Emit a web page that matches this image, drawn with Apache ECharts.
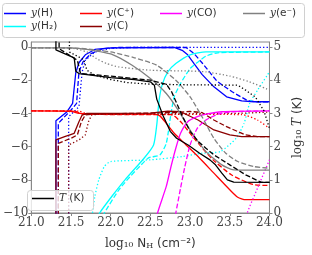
<!DOCTYPE html>
<html><head><meta charset="utf-8">
<script src="https://cdn.jsdelivr.net/npm/echarts@6/dist/echarts.min.js"></script>
<style>html,body{margin:0;padding:0;background:#fff}#c{width:312px;height:255px}</style>
</head><body><div id="c"></div>
<script>
// ---- data: [log10 N_H, log10 y] (left axis) ----
const H_solid  = [[21.0,-12],[21.31,-12],[21.31,-4.45],[21.45,-3.9],[21.52,-3.4],[21.56,-1.55],[21.6,-0.95],[21.68,-0.47],[21.8,-0.15],[22.0,-0.05],[22.8,-0.03],[22.9,-0.2],[22.97,-0.47],[23.05,-1.0],[23.15,-1.65],[23.3,-2.4],[23.46,-3.0],[23.65,-3.25],[23.8,-3.3],[24.0,-3.3]];
const H_dash   = [[21.0,-12],[21.34,-12],[21.34,-4.6],[21.5,-3.8],[21.57,-3.4],[21.6,-1.5],[21.65,-0.9],[21.75,-0.4],[21.9,-0.1],[22.1,-0.03],[22.95,-0.03],[23.05,-0.4],[23.15,-0.95],[23.34,-2.07],[23.53,-2.7],[23.73,-3.25],[23.85,-3.3],[24.0,-3.3]];
const H_dot    = [[21.0,-12],[21.47,-12],[21.47,-4.2],[21.6,-3.6],[21.64,-1.5],[21.68,-0.8],[21.8,-0.3],[22.0,-0.08],[22.3,-0.02],[24.0,-0.02]];
const H2_solid = [[21.8,-10.6],[21.86,-10],[22.03,-8.9],[22.18,-8.0],[22.42,-6.7],[22.54,-5.9],[22.58,-4.7],[22.61,-3.2],[22.65,-2.25],[22.72,-1.5],[22.82,-1.0],[23.0,-0.47],[23.2,-0.3],[24.0,-0.3]];
const H2_dash  = [[21.86,-10.6],[21.92,-10],[22.12,-8.5],[22.47,-6.7],[22.62,-6.5],[22.7,-5.8],[22.76,-4.0],[22.8,-3.0],[22.88,-2.2],[23.0,-1.3],[23.1,-0.9],[23.2,-0.55],[23.35,-0.35],[24.0,-0.3]];
const H2_dot   = [[21.74,-10.6],[21.77,-10],[21.8,-9.0],[21.85,-8.0],[21.92,-7.2],[22.0,-6.9],[22.5,-6.8],[22.9,-6.6],[23.15,-6.4],[23.38,-6.3],[23.58,-5.5],[23.68,-4.6],[23.75,-3.4],[23.85,-2.6],[24.0,-1.5]];
const Cp_solid = [[21.0,-3.85],[21.5,-3.87],[21.6,-4.0],[22.0,-4.05],[22.55,-4.05],[22.62,-4.15],[22.7,-4.6],[22.8,-5.2],[22.95,-5.9],[23.1,-6.6],[23.3,-7.6],[23.5,-8.6],[23.6,-9.05],[23.7,-9.2],[24.0,-9.2]];
const Cp_dash  = [[21.0,-3.85],[21.55,-3.87],[21.65,-4.05],[22.75,-4.08],[22.8,-4.15],[22.9,-4.6],[23.05,-5.5],[23.29,-6.8],[23.52,-7.7],[23.79,-8.28],[24.0,-8.34]];
const Cp_dot   = [[21.0,-3.85],[21.6,-3.87],[21.72,-4.05],[23.65,-4.07],[23.85,-4.4],[24.0,-4.9]];
const C_solid  = [[21.0,-12],[21.31,-12],[21.31,-5.6],[21.42,-5.4],[21.54,-5.2],[21.6,-4.5],[21.64,-4.1],[21.7,-4.0],[22.5,-3.98],[22.72,-3.86],[22.88,-3.9],[23.1,-4.4],[23.3,-5.0],[23.5,-5.3],[23.65,-5.4],[24.0,-5.4]];
const C_dash   = [[21.0,-12],[21.34,-12],[21.34,-5.8],[21.5,-5.5],[21.58,-5.3],[21.63,-4.5],[21.68,-4.1],[21.75,-4.05],[22.8,-3.95],[23.0,-3.88],[23.15,-3.95],[23.3,-4.4],[23.46,-4.8],[23.7,-5.3],[23.85,-5.4],[24.0,-5.4]];
const C_dot    = [[21.0,-12],[21.47,-12],[21.47,-5.9],[21.6,-5.6],[21.68,-5.3],[21.72,-4.5],[21.76,-4.1],[21.85,-4.05],[23.6,-4.0],[24.0,-3.92]];
const CO_solid = [[22.55,-11],[22.59,-10],[22.7,-8.4],[22.76,-7.2],[22.82,-6.1],[22.88,-5.2],[22.97,-4.5],[23.09,-4.2],[23.2,-4.05],[23.4,-3.9],[24.0,-3.85]];
const CO_dash  = [[22.78,-11],[22.82,-10],[22.88,-8.5],[22.93,-7.3],[23.0,-5.9],[23.09,-4.9],[23.2,-4.4],[23.35,-4.05],[23.55,-3.9],[24.0,-3.85]];
const CO_dot   = [[23.68,-11],[23.72,-10],[23.85,-8.5],[24.0,-6.8]];
const E_solid  = [[21.0,-0.05],[21.5,-0.05],[21.7,-0.15],[22.03,-0.47],[22.27,-1.1],[22.5,-1.9],[22.7,-2.8],[22.85,-3.8],[23.0,-5.0],[23.2,-6.3],[23.4,-7.1],[23.55,-7.4],[24.0,-7.42]];
const E_dash   = [[21.0,-0.05],[21.6,-0.08],[22.0,-0.3],[22.3,-0.65],[22.58,-1.1],[22.82,-2.0],[23.0,-3.0],[23.15,-4.2],[23.3,-5.5],[23.45,-6.4],[23.6,-6.9],[23.8,-7.2],[24.0,-7.3]];
const E_dot    = [[21.0,-0.05],[21.48,-0.05],[21.7,-0.3],[21.82,-0.7],[21.95,-1.0],[22.1,-1.2],[22.5,-1.4],[23.0,-1.45],[23.2,-1.5],[23.5,-1.75],[23.75,-2.1],[24.0,-2.6]];
// ---- data: [log10 N_H, log10 T] (right axis) ----
const T_solid  = [[21.0,5.6],[21.31,5.6],[21.31,4.91],[21.54,4.67],[21.56,4.27],[21.6,4.2],[22.0,4.08],[22.3,4.02],[22.5,3.95],[22.55,3.85],[22.58,3.43],[22.66,2.93],[22.75,2.46],[22.83,2.25],[22.98,2.04],[23.12,1.8],[23.25,1.6],[23.32,1.45],[23.4,1.2],[23.47,1.0],[23.55,0.93],[24.0,0.92]];
const T_dash   = [[21.0,5.6],[21.35,5.6],[21.35,4.95],[21.58,4.6],[21.62,4.2],[22.0,4.12],[22.5,4.0],[22.7,3.88],[22.77,3.64],[22.9,2.93],[23.0,2.46],[23.1,2.16],[23.2,1.95],[23.3,1.75],[23.5,1.45],[23.7,1.15],[23.9,0.92],[24.0,0.92]];
const T_dot    = [[21.0,5.6],[21.48,5.6],[21.48,4.85],[21.66,4.62],[21.7,4.3],[21.8,4.15],[22.0,4.02],[22.2,3.93],[22.5,3.88],[23.0,3.86],[23.6,3.85],[23.7,3.7],[23.82,3.5],[23.93,3.08],[24.0,2.55]];

const X_MIN = 21, X_MAX = 24, X_STEP = 0.5;
const YL_MIN = -10, YL_MAX = 0.3, YL_STEP = 2;
const YR_MIN = 0, YR_MAX = 5.15, YR_STEP = 1;

const COLORS = {H:'#0000ff', H2:'#00ffff', Cp:'#ff0000', C:'#8b0000', CO:'#ff00ff', E:'#808080', T:'#000000'};
const STYLE = {solid:'solid', dash:[5,2.2], dot:[1.3,2.2]};
const LW = 1.3;

function mk(name, data, color, style, yi, sm){
  return {type:'line', name:name, data:data, yAxisIndex:yi||0, symbol:'none', showSymbol:false,
    smooth: sm||false,
    lineStyle:{color:color, width:LW, type:STYLE[style]}, itemStyle:{color:color},
    silent:true, animation:false, clip:true};
}
const series = [
  mk('y(H)', H_solid, COLORS.H,'solid'), mk('H_d', H_dash, COLORS.H,'dash'), mk('H_o', H_dot, COLORS.H,'dot'),
  mk('y(H2)', H2_solid, COLORS.H2,'solid',0,0.2), mk('H2_d', H2_dash, COLORS.H2,'dash',0,0.2), mk('H2_o', H2_dot, COLORS.H2,'dot',0,0.2),
  mk('y(C+)', Cp_solid, COLORS.Cp,'solid',0,0.2), mk('Cp_d', Cp_dash, COLORS.Cp,'dash',0,0.2), mk('Cp_o', Cp_dot, COLORS.Cp,'dot',0,0.2),
  mk('y(C)', C_solid, COLORS.C,'solid'), mk('C_d', C_dash, COLORS.C,'dash'), mk('C_o', C_dot, COLORS.C,'dot'),
  mk('y(CO)', CO_solid, COLORS.CO,'solid',0,0.2), mk('CO_d', CO_dash, COLORS.CO,'dash',0,0.2), mk('CO_o', CO_dot, COLORS.CO,'dot',0,0.2),
  mk('y(e-)', E_solid, COLORS.E,'solid',0,0.2), mk('E_d', E_dash, COLORS.E,'dash',0,0.2), mk('E_o', E_dot, COLORS.E,'dot',0,0.2),
  mk('T', T_solid, COLORS.T,'solid',1), mk('T_d', T_dash, COLORS.T,'dash',1), mk('T_o', T_dot, COLORS.T,'dot',1)
];

const LEG_LABEL = {'y(H)':'{i|y}(H)','y(H2)':'{i|y}(H₂)','y(C+)':'{i|y}(C⁺)','y(C)':'{i|y}(C)','y(CO)':'{i|y}(CO)','y(e-)':'{i|y}(e⁻)','T':'{i|T} (K)'};
const legTxt = {color:'#333', fontFamily:'DejaVu Sans', fontSize:10.5,
  rich:{i:{fontFamily:'DejaVu Serif', fontStyle:'italic', fontSize:10.5, color:'#333'}}};
function leg(name, left, top){
  return {data:[name], left:left, top:top, icon:'rect', itemWidth:22, itemHeight:1.5, itemGap:0,
    padding:0, selectedMode:false, z:110, textStyle:legTxt, formatter:function(n){return LEG_LABEL[n];}};
}
const legends = [
  leg('y(H)',4,8), leg('y(H2)',4,21),
  leg('y(C+)',80,8), leg('y(C)',80,21),
  leg('y(CO)',160,8),
  leg('y(e-)',243,8),
  leg('T',32,193)
];

const tickLbl = {color:'#444', fontFamily:'DejaVu Serif', fontSize:12};
const axisCol = '#888';
function minus(v){ return v<0 ? '\u2212'+Math.abs(v) : String(v); }

const option = {
  backgroundColor:'#fff',
  animation:false,
  grid:{left:22, right:33, top:42, bottom:39, show:true, borderColor:axisCol, borderWidth:1, backgroundColor:'transparent'},
  legend: legends,
  xAxis:{type:'value', min:X_MIN, max:X_MAX, interval:X_STEP,
    axisLine:{show:true, onZero:false, lineStyle:{color:axisCol}},
    axisTick:{show:true, length:3, lineStyle:{color:axisCol}},
    axisLabel:Object.assign({margin:4, formatter:function(v){return v.toFixed(1);}}, tickLbl),
    splitLine:{show:false},
    name:'{m|log₁₀} N{s|H} (cm⁻²)', nameLocation:'middle', nameGap:24,
    nameTextStyle:{color:'#333', fontFamily:'DejaVu Sans', fontSize:12,
      rich:{m:{fontFamily:'DejaVu Serif', fontSize:12, color:'#333'}, s:{fontFamily:'DejaVu Serif', fontSize:8, color:'#333', padding:[5,0,0,0]}}}},
  yAxis:[
    {type:'value', min:YL_MIN, max:YL_MAX, interval:YL_STEP, position:'left',
      axisLine:{show:true, lineStyle:{color:axisCol}},
      axisTick:{show:true, length:3, lineStyle:{color:axisCol}},
      axisLabel:Object.assign({margin:3, showMaxLabel:false, formatter:function(v){return (Math.abs(v%2)<1e-6)?minus(v):'';}}, tickLbl),
      splitLine:{show:false}},
    {type:'value', min:YR_MIN, max:YR_MAX, interval:YR_STEP, position:'right',
      axisLine:{show:true, lineStyle:{color:axisCol}},
      axisTick:{show:true, length:3, lineStyle:{color:axisCol}},
      axisLabel:Object.assign({margin:4, showMaxLabel:false, formatter:function(v){return (Math.abs(v-Math.round(v))<1e-6)?String(v):'';}}, tickLbl),
      splitLine:{show:false},
      name:'{m|log₁₀} {i|T} (K)', nameLocation:'middle', nameGap:17, nameRotate:90,
      nameTextStyle:{color:'#333', fontFamily:'DejaVu Sans', fontSize:12,
        rich:{m:{fontFamily:'DejaVu Serif', fontSize:12, color:'#333'}, i:{fontFamily:'DejaVu Serif', fontStyle:'italic', fontSize:12, color:'#333'}}}}
  ],
  graphic:[
    {type:'rect', shape:{x:2.5, y:3.5, width:302, height:34, r:3}, style:{fill:'rgba(255,255,255,0.8)', stroke:'#d0d0d0', lineWidth:1}, z:100, silent:true},
    {type:'rect', shape:{x:27.5, y:190.5, width:66, height:20, r:3}, style:{fill:'rgba(255,255,255,0.8)', stroke:'#d0d0d0', lineWidth:1}, z:100, silent:true}
  ],
  series: series
};
const chart = echarts.init(document.getElementById('c'), null, {renderer:'canvas'});
chart.setOption(option);
</script></body></html>
